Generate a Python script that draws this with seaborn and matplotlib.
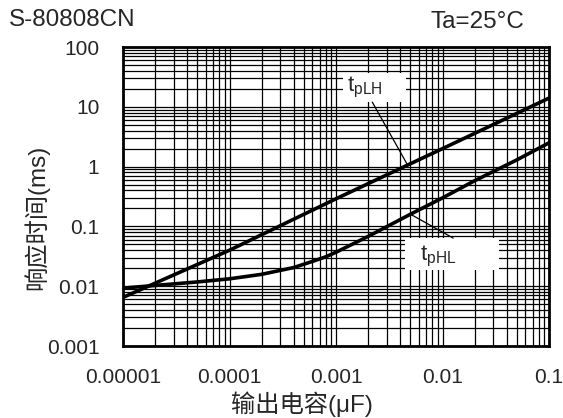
import numpy as np
import pandas as pd
import seaborn as sns
import matplotlib.pyplot as plt
from matplotlib.patches import Rectangle
from matplotlib.ticker import LogLocator, FixedLocator, NullFormatter

# capacitance (uF) and response times (ms)
cap_lh = [0.00001, 0.0001, 0.001, 0.01, 0.1]
t_plh = [0.0065, 0.040, 0.29, 2.0, 14.0]

cap_hl = [0.00001, 0.00002, 0.00005, 0.0001, 0.0002, 0.0004, 0.0006, 0.0008, 0.001, 0.002, 0.005, 0.01, 0.02, 0.05, 0.1]
t_phl = [0.0093, 0.0103, 0.0118, 0.0133, 0.0158, 0.0205, 0.026, 0.031, 0.037, 0.068, 0.16, 0.30, 0.58, 1.3, 2.5]

x_ticks = [0.00001, 0.0001, 0.001, 0.01, 0.1]
x_tick_labels = ['0.00001', '0.0001', '0.001', '0.01', '0.1']
y_ticks = [0.001, 0.01, 0.1, 1, 10, 100]
y_tick_labels = ['0.001', '0.01', '0.1', '1', '10', '100']

df_lh = pd.DataFrame({'cap': cap_lh, 't': t_plh})
df_hl = pd.DataFrame({'cap': cap_hl, 't': t_phl})

sns.set_style("white")
plt.rcParams['font.family'] = ['Liberation Sans', 'Noto Sans CJK SC', 'DejaVu Sans']
plt.rcParams['mathtext.fontset'] = 'custom'
plt.rcParams['mathtext.rm'] = 'Liberation Sans'
plt.rcParams['mathtext.it'] = 'Liberation Sans'

fig = plt.figure(figsize=(5.63, 4.18), dpi=100)
ax = fig.add_axes([0.2185, 0.1722, 0.7567, 0.7153])

sns.lineplot(data=df_lh, x='cap', y='t', color='black', linewidth=2.6, ax=ax, zorder=5)
sns.lineplot(data=df_hl, x='cap', y='t', color='black', linewidth=2.6, ax=ax, zorder=5)

ax.set_xscale('log')
ax.set_yscale('log')
ax.set_xlim(x_ticks[0], x_ticks[-1])
ax.set_ylim(y_ticks[0], y_ticks[-1])

ax.xaxis.set_major_locator(FixedLocator(x_ticks))
ax.set_xticklabels(x_tick_labels)
ax.yaxis.set_major_locator(FixedLocator(y_ticks))
ax.set_yticklabels(y_tick_labels)
ax.xaxis.set_minor_locator(LogLocator(base=10, subs=np.arange(2, 10)))
ax.yaxis.set_minor_locator(LogLocator(base=10, subs=np.arange(2, 10)))
ax.xaxis.set_minor_formatter(NullFormatter())
ax.yaxis.set_minor_formatter(NullFormatter())

ax.grid(which='both', color='black', linewidth=0.9)
ax.tick_params(which='both', length=0, labelsize=15)
ax.tick_params(axis='x', pad=16)
ax.tick_params(axis='y', pad=17)
for sp in ax.spines.values():
    sp.set_color('black')
    sp.set_linewidth(2)

ax.set_xlabel('')
ax.set_ylabel('')
ax.text(0.421, -0.195, '输出电容(μF)', transform=ax.transAxes, fontsize=17.5,
        ha='center', va='center')
fig.text(0.064, 0.43 * 0.7153 + 0.1722, '响应时间(ms)', fontsize=17.5,
         rotation=90, ha='center', va='center')

fig.text(0.016, 0.953, 'S-80808CN', fontsize=17.5, va='center', ha='left')
fig.text(0.931, 0.947, 'Ta=25°C', fontsize=17.5, va='center', ha='right')

# white label boxes
ax.add_patch(Rectangle((0.516, 0.816), 0.148, 0.097, transform=ax.transAxes,
                       fc='white', ec='none', zorder=6))
ax.add_patch(Rectangle((0.662, 0.254), 0.221, 0.107, transform=ax.transAxes,
                       fc='white', ec='none', zorder=6))
ax.text(0.526, 0.866, r'$\mathrm{t_{pLH}}$', transform=ax.transAxes,
        fontsize=16, ha='left', va='center', zorder=7)
ax.text(0.697, 0.301, r'$\mathrm{t_{pHL}}$', transform=ax.transAxes,
        fontsize=16, ha='left', va='center', zorder=7)

# leader lines to the curves
x_lh = 0.0047
y_lh = 10 ** np.interp(np.log10(x_lh), np.log10(cap_lh), np.log10(t_plh))
x_hl = 0.005
y_hl = 10 ** np.interp(np.log10(x_hl), np.log10(cap_hl), np.log10(t_phl))
ax.annotate('', xy=(x_lh, y_lh), xytext=(0.585, 0.816), textcoords='axes fraction',
            arrowprops=dict(arrowstyle='-', color='black', lw=0.9, shrinkA=0, shrinkB=0),
            zorder=7)
ax.annotate('', xy=(x_hl, y_hl), xytext=(0.775, 0.361), textcoords='axes fraction',
            arrowprops=dict(arrowstyle='-', color='black', lw=0.9, shrinkA=0, shrinkB=0),
            zorder=7)

plt.savefig('out.png', dpi=100)
